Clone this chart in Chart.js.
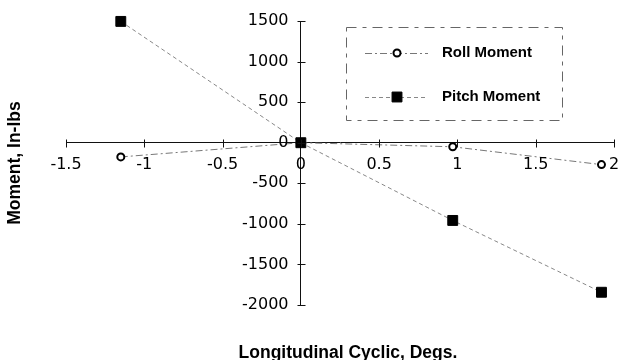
<!DOCTYPE html>
<html>
<head>
<meta charset="utf-8">
<title>Roll and Pitch Moment</title>
<script src="https://cdn.jsdelivr.net/npm/chart.js@4.4.1/dist/chart.umd.min.js"></script>
<style>
  html, body { margin: 0; padding: 0; background: #fff; }
</style>
</head>
<body>
<canvas id="momentChart" width="618" height="360"></canvas>
<script>
// Longitudinal cyclic input (degrees) and measured moments (in-lbs)
const cyclicDegs = [-1.15, 0, 0.97, 1.92];
const rollMoment = [-175, 0, -50, -270];
const pitchMoment = [1495, 0, -958, -1843];

const xTicks = [-1.5, -1, -0.5, 0, 0.5, 1, 1.5, 2];
const yTicks = [-2000, -1500, -1000, -500, 0, 500, 1000, 1500];

const seriesNames = ["Roll Moment", "Pitch Moment"];
const xTitle = "Longitudinal Cyclic, Degs.";
const yTitle = "Moment, In-lbs";

function toPoints(values) {
    return cyclicDegs.map((x, i) => ({ x: x, y: values[i] }));
}

const titleFont = "bold 17.5px 'Liberation Sans', Arial, sans-serif";
const legendFont = "bold 15px 'Liberation Sans', Arial, sans-serif";
const tickFont = "16px 'DejaVu Sans', sans-serif";

// Axes cross at the origin, so tick marks are crosses and labels hang off the zero lines.
// Chart.js ignores tick padding for data-positioned axes, so labels are placed here.
const originAxes = {
    id: "originAxes",
    afterDraw(chart) {
        const ctx = chart.ctx;
        const xs = chart.scales.x;
        const ys = chart.scales.y;
        const x0 = Math.round(xs.getPixelForValue(0)) + 0.5;
        const y0 = Math.round(ys.getPixelForValue(0)) + 0.5;
        ctx.save();
        ctx.strokeStyle = "#111";
        ctx.lineWidth = 1;
        ctx.beginPath();
        xTicks.forEach((v) => {
            const px = Math.round(xs.getPixelForValue(v)) + 0.5;
            ctx.moveTo(px, y0 - 4);
            ctx.lineTo(px, y0 + 4);
        });
        yTicks.forEach((v) => {
            const py = Math.round(ys.getPixelForValue(v)) + 0.5;
            ctx.moveTo(x0 - 4, py);
            ctx.lineTo(x0 + 4, py);
        });
        ctx.stroke();

        ctx.fillStyle = "#000";
        ctx.font = tickFont;
        ctx.textBaseline = "middle";
        ctx.textAlign = "center";
        xTicks.forEach((v) => {
            ctx.fillText(String(v), xs.getPixelForValue(v), y0 + 21);
        });
        ctx.textAlign = "right";
        yTicks.forEach((v) => {
            ctx.fillText(String(v), x0 - 13, ys.getPixelForValue(v));
        });
        ctx.restore();
    }
};

// Axis titles sit outside the plot area
const axisTitles = {
    id: "axisTitles",
    afterDraw(chart) {
        const ctx = chart.ctx;
        const area = chart.chartArea;
        ctx.save();
        ctx.fillStyle = "#000";
        ctx.font = titleFont;
        ctx.textAlign = "center";
        ctx.textBaseline = "middle";
        ctx.fillText(xTitle, (area.left + area.right) / 2 + 8, area.bottom + 48);
        ctx.translate(15, (area.top + area.bottom) / 2);
        ctx.rotate(-Math.PI / 2);
        ctx.fillText(yTitle, 0, 0);
        ctx.restore();
    }
};

// Boxed legend inside the plot: line sample with marker, then the series name
const boxLegend = {
    id: "boxLegend",
    afterDraw(chart) {
        const ctx = chart.ctx;
        const area = chart.chartArea;
        const left = area.left + 280;
        const top = area.top + 6;
        const w = 216, h = 93;
        ctx.save();
        ctx.strokeStyle = "#666";
        ctx.lineWidth = 1;
        ctx.setLineDash([10, 6, 4, 6]);
        ctx.strokeRect(left + 0.5, top + 0.5, w, h);
        ctx.setLineDash([]);

        chart.data.datasets.forEach((ds, i) => {
            const cy = top + 26 + i * 44;
            ctx.strokeStyle = ds.borderColor;
            ctx.lineWidth = ds.borderWidth;
            ctx.setLineDash(ds.borderDash || []);
            ctx.beginPath();
            ctx.moveTo(left + 19, cy + 0.5);
            ctx.lineTo(left + 82, cy + 0.5);
            ctx.stroke();
            ctx.setLineDash([]);
            ctx.fillStyle = ds.pointBackgroundColor;
            ctx.strokeStyle = ds.pointBorderColor;
            ctx.lineWidth = ds.pointBorderWidth;
            Chart.helpers.drawPoint(ctx, {
                pointStyle: ds.pointStyle,
                radius: ds.pointRadius,
                rotation: 0,
                borderWidth: ds.pointBorderWidth
            }, left + 51, cy);
            ctx.fillStyle = "#000";
            ctx.font = legendFont;
            ctx.textAlign = "left";
            ctx.textBaseline = "middle";
            ctx.fillText(ds.label, left + 96, cy);
        });
        ctx.restore();
    }
};

const ctx = document.getElementById("momentChart").getContext("2d");
new Chart(ctx, {
    type: "scatter",
    data: {
        datasets: [{
            label: seriesNames[0],
            data: toPoints(rollMoment),
            showLine: true,
            clip: false,
            borderColor: "#777",
            borderWidth: 1,
            borderDash: [7, 3, 2, 3],
            pointStyle: "circle",
            pointRadius: 3.5,
            pointBackgroundColor: "#fff",
            pointBorderColor: "#000",
            pointBorderWidth: 2,
            order: 1
        }, {
            label: seriesNames[1],
            data: toPoints(pitchMoment),
            showLine: true,
            clip: false,
            borderColor: "#888",
            borderWidth: 1,
            borderDash: [4, 3],
            pointStyle: "rect",
            pointRadius: 7,
            pointBackgroundColor: "#000",
            pointBorderColor: "#000",
            pointBorderWidth: 1,
            order: 0
        }]
    },
    options: {
        responsive: false,
        animation: false,
        layout: { autoPadding: false, padding: { left: 66, right: 4, top: 21, bottom: 55 } },
        plugins: {
            legend: { display: false },
            tooltip: { enabled: false }
        },
        scales: {
            x: {
                type: "linear",
                position: { y: 0 },
                min: xTicks[0],
                max: xTicks[xTicks.length - 1],
                grid: { display: false },
                border: { display: true, color: "#111", width: 1 },
                ticks: { display: false }
            },
            y: {
                type: "linear",
                position: { x: 0 },
                min: yTicks[0],
                max: yTicks[yTicks.length - 1],
                grid: { display: false },
                border: { display: true, color: "#111", width: 1 },
                ticks: { display: false }
            }
        }
    },
    plugins: [originAxes, axisTitles, boxLegend]
});
</script>
</body>
</html>
